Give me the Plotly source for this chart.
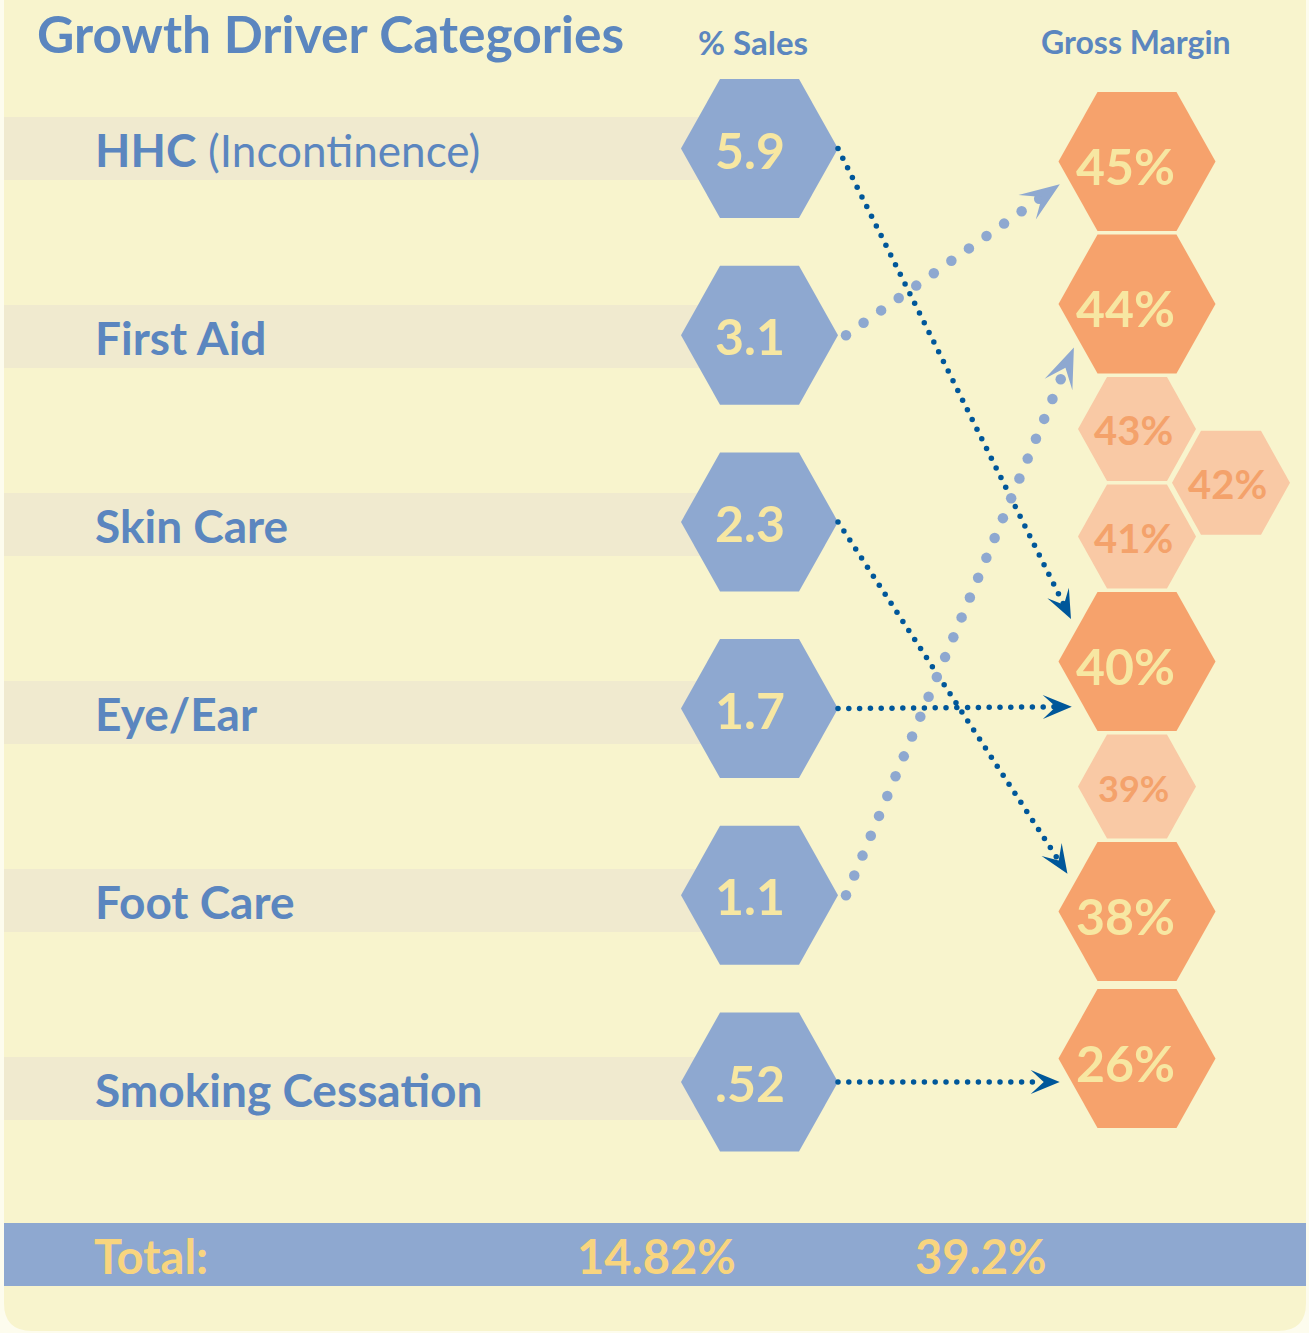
import numpy as np
import plotly.graph_objects as go

# ---------------- data ----------------
categories = ["HHC", "First Aid", "Skin Care", "Eye/Ear", "Foot Care", "Smoking Cessation"]
category_notes = ["(Incontinence)", "", "", "", "", ""]
sales_pct = [5.9, 3.1, 2.3, 1.7, 1.1, 0.52]
sales_labels = ["5.9", "3.1", "2.3", "1.7", "1.1", ".52"]
gross_margin = [40, 45, 38, 40, 44, 26]
margin_levels = [45, 44, 43, 42, 41, 40, 39, 38, 26]
total_sales_label = "14.82%"
total_margin_label = "39.2%"

# ---------------- styles / layout ----------------
arrow_style = ["dark", "light", "dark", "dark", "light", "dark"]
side_levels = [42]

W, H = 1309, 1333
BG_OUT = "#FDFCEE"
PANEL = "#F8F4CD"
BAND = "#F0EACF"
BLUE_TXT = "#5B86BF"
SALES_HEX = "#8EA8D0"
CREAM_TXT = "#F7E7A2"
ORANGE = "#F6A26C"
ORANGE_LIGHT = "#F9C9A5"
ORANGE_TXT = "#F4A26B"
DARK_DOT = "#00579A"
LIGHT_DOT = "#8EA8D0"
TOTAL_TXT = "#F8D57F"
FONT = "Lato, Roboto, sans-serif"

SALES_CX = 759.5
MARGIN_CX = 1137.0
BIG = dict(hw=78.5, tw=39.5, hh=69.5)
SMALL = dict(hw=59.0, tw=30.0, hh=52.0)


def hex_pts(cx, cy, hw, tw, hh):
    return [(cx - hw, cy), (cx - tw, cy - hh), (cx + tw, cy - hh),
            (cx + hw, cy), (cx + tw, cy + hh), (cx - tw, cy + hh)]


def poly_path(pts):
    return "M " + " L ".join(f"{x:.2f},{y:.2f}" for x, y in pts) + " Z"


def first_hit(p, a, pts):
    p = np.array(p, float); a = np.array(a, float)
    r = a - p
    best = 1.0
    for i in range(len(pts)):
        q = np.array(pts[i], float); s = np.array(pts[(i + 1) % len(pts)], float) - q
        den = r[0] * s[1] - r[1] * s[0]
        if abs(den) < 1e-9:
            continue
        t = ((q - p)[0] * s[1] - (q - p)[1] * s[0]) / den
        u = ((q - p)[0] * r[1] - (q - p)[1] * r[0]) / den
        if 0 <= t <= best and 0 <= u <= 1:
            best = t
    return p + best * r


shapes = []
annotations = []
fig = go.Figure()

# panel background with rounded bottom corners
R = 28
shapes.append(dict(type="path", xref="x", yref="y", layer="below", line=dict(width=0), fillcolor=PANEL,
                   path=f"M 4,0 L 1306,0 L 1306,{1331-R} Q 1306,1331 {1306-R},1331 L {4+R},1331 Q 4,1331 4,{1331-R} Z"))

# row bands + labels
BAND_TOP0, BAND_STEP, BAND_H = 117.0, 188.0, 63.0
SALES_CY0, SALES_STEP = 148.5, 186.7
for i, cat in enumerate(categories):
    y0 = BAND_TOP0 + BAND_STEP * i
    shapes.append(dict(type="rect", xref="x", yref="y", layer="below", line=dict(width=0), fillcolor=BAND,
                       x0=4, x1=SALES_CX, y0=y0, y1=y0 + BAND_H))
    txt = f"<b>{cat}</b>" + (f" <span style='font-size:44px'>{category_notes[i]}</span>" if category_notes[i] else "")
    annotations.append(dict(x=93, y=y0 + BAND_H / 2 + 1, xref="x", yref="y", text=txt, showarrow=False,
                            xanchor="left", yanchor="middle",
                            font=dict(family=FONT, size=46, color=BLUE_TXT)))

# sales hexagons
sales_centers = []
for i, v in enumerate(sales_pct):
    cy = SALES_CY0 + SALES_STEP * i
    sales_centers.append((SALES_CX, cy))
    shapes.append(dict(type="path", xref="x", yref="y", layer="below", line=dict(width=0), fillcolor=SALES_HEX,
                       path=poly_path(hex_pts(SALES_CX, cy, **BIG))))
    annotations.append(dict(x=SALES_CX - 10, y=cy + 1, xref="x", yref="y", text=sales_labels[i], showarrow=False,
                            xanchor="center", yanchor="middle",
                            font=dict(family=FONT, size=50, color=CREAM_TXT, weight="bold")))

# gross margin honeycomb stack
GAP = 3.5
top = 92.0
margin_geo = {}
stack = [m for m in margin_levels if m not in side_levels]
prev = None
for m in stack:
    dims = BIG if m in gross_margin else SMALL
    if prev is not None and prev - m > 2:
        top += 4.5
    cy = top + dims["hh"]
    margin_geo[m] = (MARGIN_CX, cy, dims)
    top = cy + dims["hh"] + GAP
    prev = m
for m in side_levels:
    a = margin_geo[m + 1]; b = margin_geo[m - 1]
    margin_geo[m] = (MARGIN_CX + 94, (a[1] + b[1]) / 2, SMALL)

for m in margin_levels:
    cx, cy, dims = margin_geo[m]
    big = m in gross_margin
    shapes.append(dict(type="path", xref="x", yref="y", layer="below", line=dict(width=0),
                       fillcolor=ORANGE if big else ORANGE_LIGHT,
                       path=poly_path(hex_pts(cx, cy, **dims))))
    fs = 50 if big else (36 if m == 39 else 40)
    annotations.append(dict(x=cx - (12 if big else 4), y=cy + (4 if big else 1), xref="x", yref="y",
                            text=f"{m}%", showarrow=False, xanchor="center", yanchor="middle",
                            font=dict(family=FONT, size=fs,
                                      color=CREAM_TXT if big else ORANGE_TXT, weight="bold")))

# connectors
for i, m in enumerate(gross_margin):
    light = arrow_style[i] == "light"
    sx, sy = sales_centers[i]
    S = np.array([sx + BIG["hw"] + (8 if light else 0), sy])
    mx, my, dims = margin_geo[m]
    dy = sy - my
    off = float(np.clip(dy, -45, 45)) if abs(dy) < 60 else 0.0
    A = np.array([mx - 45, my + off])
    I = first_hit(S, A, hex_pts(mx, my, **dims))
    u = (I - S) / np.linalg.norm(I - S)
    p = np.array([-u[1], u[0]])
    T = I - (10 if light else 12) * u
    L, Wd = (40, 30) if light else (29, 24)
    col = LIGHT_DOT if light else DARK_DOT
    sp = 21.5 if light else 10.8
    end = T - 0.6 * L * u
    dist = np.linalg.norm(end - S)
    k = np.arange(0, dist, sp)
    pts = S[None, :] + k[:, None] * u[None, :]
    fig.add_trace(go.Scatter(x=pts[:, 0], y=pts[:, 1], mode="markers", hoverinfo="skip",
                             marker=dict(size=10.5 if light else 5.5, color=col, line=dict(width=0))))
    B1 = T - L * u + Wd / 2 * p
    B2 = T - L * u - Wd / 2 * p
    N = T - 0.55 * L * u
    shapes.append(dict(type="path", xref="x", yref="y", layer="above", line=dict(width=0), fillcolor=col,
                       path=poly_path([tuple(T), tuple(B1), tuple(N), tuple(B2)])))

# headers
annotations.append(dict(x=35, y=33, xref="x", yref="y", text="Growth Driver Categories", showarrow=False,
                        xanchor="left", yanchor="middle",
                        font=dict(family=FONT, size=51.5, color=BLUE_TXT, weight="bold")))
annotations.append(dict(x=753, y=42, xref="x", yref="y", text="% Sales", showarrow=False,
                        xanchor="center", yanchor="middle",
                        font=dict(family=FONT, size=33, color=BLUE_TXT, weight="bold")))
annotations.append(dict(x=1136, y=41, xref="x", yref="y", text="Gross Margin", showarrow=False,
                        xanchor="center", yanchor="middle",
                        font=dict(family=FONT, size=32, color=BLUE_TXT, weight="bold")))

# total bar
shapes.append(dict(type="rect", xref="x", yref="y", layer="below", line=dict(width=0), fillcolor=SALES_HEX,
                   x0=4, x1=1306, y0=1223, y1=1286))
for x, t, anc in [(92, "Total:", "left"), (656, total_sales_label, "center"), (980, total_margin_label, "center")]:
    annotations.append(dict(x=x, y=1256, xref="x", yref="y", text=t, showarrow=False,
                            xanchor=anc, yanchor="middle",
                            font=dict(family=FONT, size=47, color=TOTAL_TXT, weight="bold")))

fig.update_layout(
    width=W, height=H, margin=dict(l=0, r=0, t=0, b=0),
    paper_bgcolor=BG_OUT, plot_bgcolor=BG_OUT, showlegend=False,
    xaxis=dict(range=[0, W], visible=False, fixedrange=True),
    yaxis=dict(range=[H, 0], visible=False, fixedrange=True),
    shapes=shapes, annotations=annotations,
)
fig.write_html("out.html", config={"displayModeBar": False},
               post_script="document.body.style.margin='0';document.body.style.padding='0';")
